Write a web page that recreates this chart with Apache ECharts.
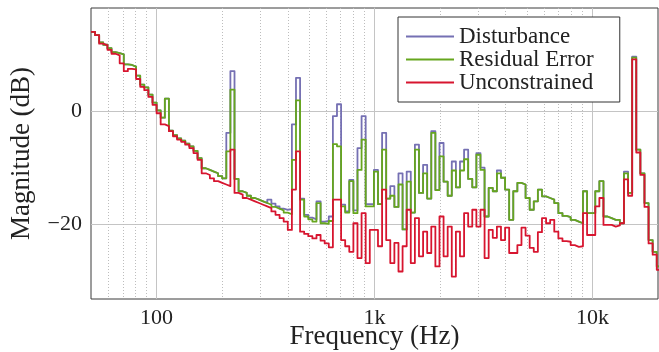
<!DOCTYPE html>
<html>
<head>
<meta charset="utf-8">
<script src="https://cdn.jsdelivr.net/npm/echarts@6/dist/echarts.min.js"></script>
<style>
html, body { margin: 0; padding: 0; background: #fff; }
#chart { width: 659px; height: 352px; }
</style>
</head>
<body>
<div id="chart"></div>
<script>
// 1/16-octave band start frequencies (Hz)
var freqs = [
  50, 52.2, 54.5, 56.9, 59.5, 62.1, 64.8, 67.7, 70.7, 73.8, 77.1, 80.5, 84.1, 87.8, 91.7, 95.8,
  100, 104.4, 109.1, 113.9, 118.9, 124.2, 129.7, 135.4, 141.4, 147.7, 154.2, 161.0, 168.2, 175.6, 183.4, 191.5,
  200, 208.9, 218.1, 227.8, 237.8, 248.4, 259.4, 270.9, 282.8, 295.4, 308.4, 322.1, 336.4, 351.3, 366.8, 383.0,
  400, 417.7, 436.2, 455.5, 475.7, 496.7, 518.7, 541.7, 565.7, 590.7, 616.9, 644.2, 672.7, 702.5, 733.6, 766.1,
  800, 835.4, 872.4, 911.0, 951.4, 993.5, 1037.5, 1083.4, 1131.4, 1181.5, 1233.8, 1288.4, 1345.4, 1405.0, 1467.2, 1532.2,
  1600, 1670.8, 1744.8, 1822.1, 1902.7, 1987.0, 2075.0, 2166.8, 2262.7, 2363.0, 2467.5, 2576.8, 2690.9, 2810.0, 2934.4, 3064.3,
  3200, 3341.7, 3489.6, 3644.1, 3805.5, 3974.0, 4149.9, 4333.6, 4525.5, 4725.9, 4935.1, 5153.6, 5381.7, 5620.0, 5868.8, 6128.7,
  6400, 6683.3, 6979.3, 7288.3, 7610.9, 7947.9, 8299.8, 8667.3, 9050.9, 9451.7, 9870.1, 10307, 10764, 11240, 11738, 12258,
  12800, 13367, 13958, 14576, 15222, 15896, 16600, 17335, 18102, 18904, 19741, 20615
]

var disturbance = [
  14.2, 13.6, 12.3, 11.9, 11.3, 10.6, 10.4, 10.2, 8.4, 8.3, 8.0, 6.4, 4.8, 4.3, 3.0, 1.6,
  0.2, -1.1, 2.3, -3.4, -4.2, -4.8, -5.2, -5.7, -6.2, -7.0, -8.3, -10.1, -10.4, -10.7, -11.0, -11.5,
  -11.9, -3.8, 7.2, -12.0, -14.2, -14.5, -15.0, -15.4, -15.7, -16.0, -16.3, -15.7, -16.4, -16.9, -17.3, -17.5,
  -17.4, -2.3, 6.0, -15.5, -18.4, -18.9, -19.2, -16.0, -19.6, -19.5, -18.7, -0.8, 1.3, -16.6, -17.8, -12.2,
  -17.6, -6.5, -0.8, -16.5, -16.5, -10.4, -16.5, -3.8, -15.5, -13.3, -17.0, -11.0, -21.0, -10.7, -18.0, -5.9,
  -14.5, -9.5, -15.5, -3.5, -14.0, -5.6, -12.5, -15.0, -8.9, -13.5, -8.9, -6.8, -12.0, -13.5, -7.4, -10.0,
  -18.7, -13.6, -14.2, -10.5, -11.8, -13.9, -19.3, -14.2, -12.7, -13.0, -15.4, -17.5, -16.0, -13.9, -15.1, -15.4,
  -15.7, -16.3, -18.1, -18.6, -18.8, -19.3, -19.6, -19.9, -14.2, -18.1, -18.1, -14.2, -12.4, -18.7, -19.0, -19.3,
  -19.3, -19.9, -10.7, -14.5, 9.8, -6.8, -11.0, -16.3, -22.9, -25.0, -27.6, -27.6
]

var residual = [
  14.2, 13.6, 12.3, 11.9, 11.3, 10.6, 10.4, 10.2, 8.4, 8.3, 8.0, 6.4, 4.8, 4.3, 3.0, 1.6,
  0.2, -1.1, 2.3, -3.4, -4.2, -4.8, -5.2, -5.7, -6.2, -7.0, -8.3, -10.1, -10.4, -10.7, -11.0, -11.5,
  -11.9, -7.1, 3.9, -12.0, -14.2, -14.5, -15.0, -15.4, -15.7, -16.0, -16.3, -16.6, -17.0, -17.3, -17.6, -18.0,
  -18.3, -8.6, 2.0, -15.7, -18.7, -19.2, -19.6, -16.3, -19.9, -20.0, -19.5, -5.8, -6.2, -16.9, -18.0, -12.4,
  -18.1, -10.4, -5.0, -16.9, -16.9, -10.7, -16.5, -6.8, -15.5, -15.0, -17.0, -13.0, -21.0, -12.5, -18.0, -6.8,
  -14.5, -11.0, -15.5, -3.8, -14.0, -8.0, -12.5, -15.0, -10.5, -13.5, -10.5, -8.5, -12.0, -13.5, -7.7, -10.4,
  -18.7, -13.6, -14.2, -11.0, -11.8, -13.9, -19.3, -14.2, -12.7, -13.0, -15.4, -17.5, -16.0, -13.9, -15.1, -15.4,
  -15.7, -16.3, -18.1, -18.6, -18.8, -19.3, -19.6, -19.9, -14.2, -18.1, -18.1, -14.2, -12.4, -18.7, -19.0, -19.3,
  -19.3, -19.9, -11.0, -14.5, 9.6, -6.8, -11.0, -16.3, -22.9, -25.0, -27.6, -27.6
]

var unconstrained = [
  14.2, 13.6, 12.1, 11.8, 11.0, 10.3, 10.0, 8.6, 7.2, 7.6, 7.5, 5.8, 4.4, 3.8, 2.6, 1.2,
  -0.3, -2.3, -2.6, -3.5, -4.4, -5.0, -5.4, -5.9, -6.5, -7.4, -8.6, -11.0, -11.3, -11.9, -12.4, -12.7,
  -13.0, -13.3, -6.8, -14.5, -14.8, -15.4, -15.7, -16.0, -16.3, -16.6, -16.9, -17.2, -17.8, -18.4, -19.0, -19.6,
  -21.1, -13.9, -7.1, -21.4, -21.8, -22.2, -22.6, -22.0, -23.0, -23.5, -24.2, -15.7, -15.7, -22.9, -24.0, -25.0,
  -19.9, -26.1, -18.1, -27.0, -21.1, -21.1, -24.0, -13.9, -22.9, -27.0, -23.4, -28.5, -24.0, -17.5, -27.0, -19.0,
  -25.8, -21.4, -25.2, -20.5, -27.6, -18.7, -25.8, -20.5, -29.4, -21.4, -25.8, -18.1, -20.5, -17.5, -20.5, -17.5,
  -26.1, -21.1, -22.5, -20.5, -22.9, -20.7, -25.2, -25.2, -23.8, -20.7, -22.1, -24.3, -25.0, -21.5, -19.0, -19.9,
  -19.3, -21.4, -22.6, -23.1, -23.2, -23.8, -24.1, -24.0, -18.1, -22.0, -22.0, -16.9, -15.4, -20.2, -20.2, -20.5,
  -20.3, -19.9, -12.1, -15.0, 9.3, -7.3, -11.3, -17.0, -23.5, -25.5, -28.2, -28.2
]

var majorTicks = [100, 1000, 10000]
var minorTicks = [60, 70, 80, 90, 200, 300, 400, 500, 600, 700, 800, 900,
  2000, 3000, 4000, 5000, 6000, 7000, 8000, 9000]
var yTicks = [-20, 0]

function pairs(vals) {
  return freqs.map(function (f, i) { return [f, vals[i]] })
}

var font = 'Liberation Serif'
var chart = echarts.init(document.getElementById('chart'))

var option = {
  animation: false,
  grid: {
    left: 91, right: 1, top: 8, bottom: 53,
    outerBoundsMode: 'none', containLabel: false,
    show: true, borderColor: '#3a3a3a', borderWidth: 1, backgroundColor: 'transparent'
  },
  legend: {
    orient: 'vertical',
    left: 398, top: 17,
    icon: 'rect',
    itemWidth: 48, itemHeight: 2, itemGap: 0,
    padding: [8, 26, 8, 8],
    borderColor: '#333', borderWidth: 1,
    backgroundColor: '#fff',
    textStyle: { fontFamily: font, fontSize: 23, lineHeight: 23, color: '#222' },
    data: ['Disturbance', 'Residual Error', 'Unconstrained']
  },
  xAxis: [
    {
      type: 'log', logBase: 10, min: 50, max: 20000,
      name: 'Frequency (Hz)', nameLocation: 'middle', nameGap: 24, nameMoveOverlap: false,
      nameTextStyle: { fontFamily: font, fontSize: 27, color: '#222' },
      axisLine: { show: false },
      axisTick: { show: false, customValues: majorTicks },
      axisLabel: {
        customValues: majorTicks, margin: 8,
        fontFamily: font, fontSize: 22, color: '#222',
        formatter: function (v) { return v >= 1000 ? (v / 1000) + 'k' : String(v) }
      },
      splitLine: { show: true, lineStyle: { color: '#c4c4c4', width: 1 } },
      minorTick: { show: false }
    },
    {
      type: 'log', logBase: 10, min: 50, max: 20000,
      axisLine: { show: false },
      axisTick: { show: false, customValues: minorTicks },
      axisLabel: { show: false, customValues: minorTicks },
      splitLine: { show: true, lineStyle: { color: '#bdbdbd', width: 1, type: [1, 2] } }
    }
  ],
  yAxis: {
    type: 'value', min: -33.4, max: 18.45,
    name: 'Magnitude (dB)', nameLocation: 'middle', nameGap: 56, nameMoveOverlap: false,
    nameTextStyle: { fontFamily: font, fontSize: 27, color: '#222' },
    axisLine: { show: false },
    axisTick: { show: false, customValues: yTicks },
    axisLabel: {
      customValues: yTicks, margin: 9,
      fontFamily: font, fontSize: 22, color: '#222',
      formatter: function (v) { return v < 0 ? '\u2212' + Math.abs(v) : String(v) }
    },
    splitLine: { show: true, lineStyle: { color: '#c4c4c4', width: 1 } }
  },
  series: [
    {
      name: 'Disturbance', type: 'line', step: 'end', data: pairs(disturbance),
      color: '#7570b3', showSymbol: false, symbol: 'none',
      lineStyle: { width: 1.8, join: 'round' }
    },
    {
      name: 'Residual Error', type: 'line', step: 'end', data: pairs(residual),
      color: '#66a61e', showSymbol: false, symbol: 'none',
      lineStyle: { width: 1.8, join: 'round' }
    },
    {
      name: 'Unconstrained', type: 'line', step: 'end', data: pairs(unconstrained),
      color: '#d7152f', showSymbol: false, symbol: 'none',
      lineStyle: { width: 1.8, join: 'round' }
    }
  ]
}

chart.setOption(option)
</script>
</body>
</html>
